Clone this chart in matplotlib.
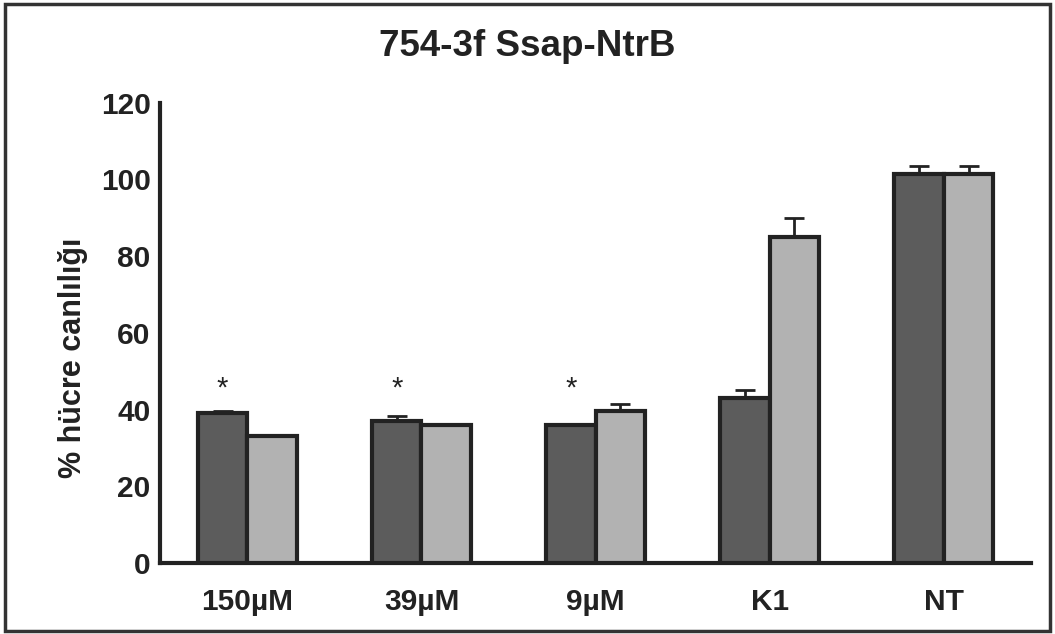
import matplotlib
matplotlib.use("Agg")
import matplotlib.pyplot as plt
import numpy as np
from matplotlib.patches import Rectangle

categories = ["150µM", "39µM", "9µM", "K1", "NT"]
series_a = [39.0, 37.0, 36.0, 43.0, 101.5]
series_a_err = [0.5, 1.2, 0.0, 2.0, 2.0]
series_b = [33.0, 36.0, 39.5, 85.0, 101.5]
series_b_err = [0.0, 0.0, 2.0, 5.0, 2.0]
significant = [True, True, True, False, False]
star_level = 45.5

plt.rcParams["font.family"] = ["Liberation Sans", "DejaVu Sans"]
plt.rcParams["font.weight"] = "bold"

fig = plt.figure(figsize=(10.55, 6.34), dpi=100)
ax = fig.add_axes([0.152, 0.112, 0.825, 0.726])

x = np.arange(len(categories))
w = 0.285
err_kw = dict(elinewidth=2, capsize=7, capthick=2, ecolor="#222222")
ax.bar(x - w / 2, series_a, w, color="#5c5c5c", edgecolor="#222222",
       linewidth=3, zorder=3)
ax.bar(x + w / 2, series_b, w, color="#b2b2b2", edgecolor="#222222",
       linewidth=3, zorder=3)
for xi, v, e in zip(x - w / 2, series_a, series_a_err):
    if e > 0:
        ax.errorbar(xi, v, yerr=[[0], [e]], fmt="none", zorder=2, **err_kw)
for xi, v, e in zip(x + w / 2, series_b, series_b_err):
    if e > 0:
        ax.errorbar(xi, v, yerr=[[0], [e]], fmt="none", zorder=2, **err_kw)

for xi, sig in zip(x - w / 2, significant):
    if sig:
        ax.text(xi, star_level, "*", ha="center", va="center",
                fontsize=21, fontweight="normal", color="#222222")

ax.set_xlim(-0.5, len(categories) - 0.5)
ax.set_ylim(0, 120)
ax.set_yticks(np.arange(0, 121, 20))
ax.set_xticks(x)
ax.set_xticklabels(categories)
ax.tick_params(axis="both", length=0, labelsize=21.5, colors="#222222")
ax.tick_params(axis="y", pad=7)
ax.tick_params(axis="x", pad=18)
for lab in ax.get_xticklabels() + ax.get_yticklabels():
    lab.set_fontweight("bold")
for s in ["top", "right"]:
    ax.spines[s].set_visible(False)
for s in ["left", "bottom"]:
    ax.spines[s].set_linewidth(3)
    ax.spines[s].set_color("#222222")

ax.set_ylabel("% hücre canlılığı", fontsize=22, fontweight="bold",
              color="#222222", labelpad=6)
ax.yaxis.set_label_coords(-0.083, 0.445)
fig.text(0.5, 0.927, "754-3f Ssap-NtrB", ha="center", va="center",
         fontsize=26.5, fontweight="bold", color="#222222")

fig.patches.append(Rectangle((0.005, 0.005), 0.99, 0.988,
                             transform=fig.transFigure, fill=False,
                             edgecolor="#333333", linewidth=2.5))

fig.savefig("out.png", dpi=100)
